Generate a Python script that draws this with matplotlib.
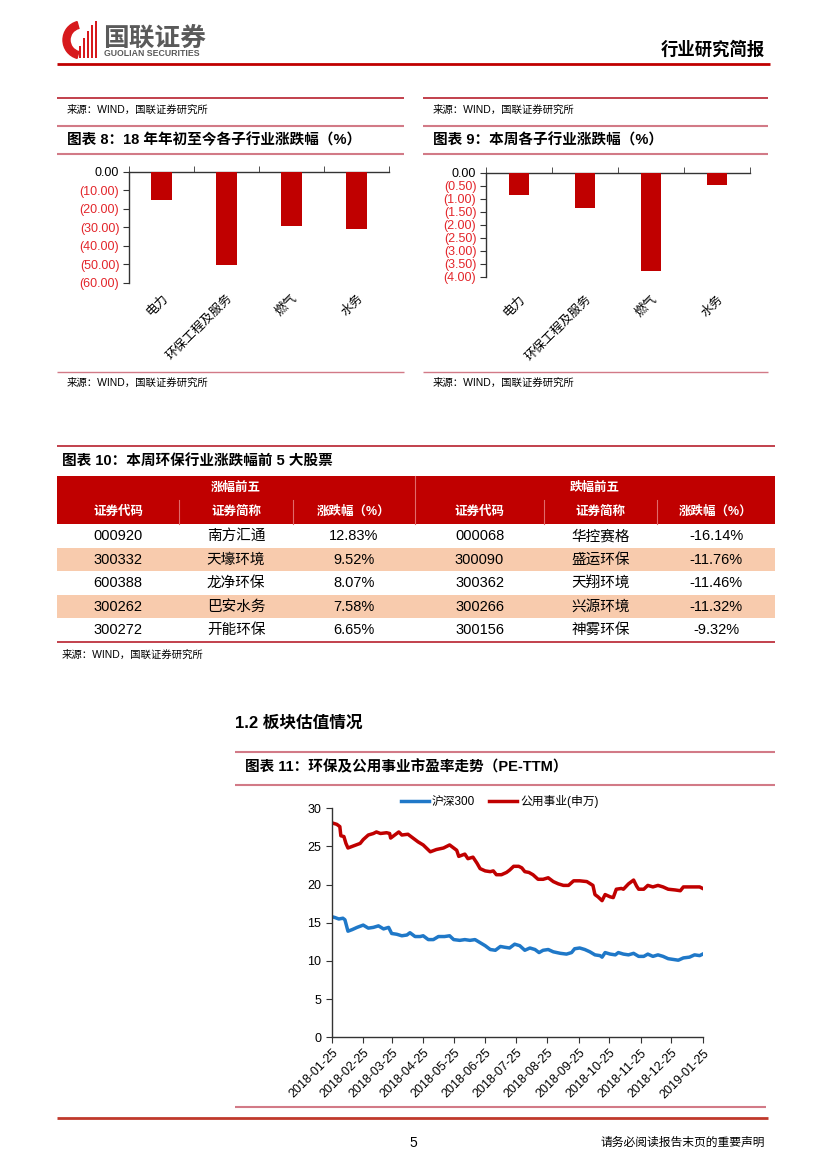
import matplotlib
matplotlib.use('Agg')
import matplotlib.pyplot as plt
import matplotlib.patches as mpatches
import numpy as np
import pandas as pd

plt.rcParams['font.family'] = ['Liberation Sans', 'Noto Sans CJK SC', 'DejaVu Sans']

# ---------------- data ----------------
sub_industries = ['电力', '环保工程及服务', '燃气', '水务']
ytd_change = [-15.3, -50.4, -29.5, -30.8]
week_change = [-0.86, -1.36, -3.79, -0.47]
ytd_ticks = [0, -10, -20, -30, -40, -50, -60]
week_ticks = [0, -0.5, -1.0, -1.5, -2.0, -2.5, -3.0, -3.5, -4.0]

table_cols = ['证券代码', '证券简称', '涨跌幅（%）']
gain_codes = ['000920', '300332', '600388', '300262', '300272']
gain_names = ['南方汇通', '天壕环境', '龙净环保', '巴安水务', '开能环保']
gain_pct = [12.83, 9.52, 8.07, 7.58, 6.65]
loss_codes = ['000068', '300090', '300362', '300266', '300156']
loss_names = ['华控赛格', '盛运环保', '天翔环境', '兴源环境', '神雾环保']
loss_pct = [-16.14, -11.76, -11.46, -11.32, -9.32]

start_date = '2018-01-25'
end_date = '2019-01-25'
util_days = [0, 5, 8, 9, 12, 14, 16, 20, 28, 31, 36, 41, 44, 48, 54, 57, 58, 61, 66, 69,
             75, 80, 85, 90, 97, 103, 110, 113, 116, 120, 123, 125, 129, 131, 134, 139, 143, 146,
             151, 156, 159, 162, 167, 172, 175, 179, 184, 187, 190, 194, 198, 203, 208, 213, 218,
             223, 228, 233, 238, 244, 251, 257, 259, 262, 266, 269, 274, 277, 280, 285, 287, 292,
             297, 300, 302, 307, 311, 316, 321, 326, 331, 338, 343, 346, 352, 357, 362, 365]
util_pe = [28.1, 27.9, 27.6, 26.4, 26.3, 25.4, 24.8, 25.0, 25.4, 25.9, 26.5, 26.7, 26.9, 26.7,
           26.8, 26.7, 26.1, 26.4, 26.9, 26.5, 26.6, 26.1, 25.6, 25.2, 24.3, 24.6, 24.8, 25.0,
           25.2, 24.8, 24.5, 23.7, 23.9, 24.0, 23.4, 23.6, 22.8, 22.1, 21.8, 21.7, 21.8, 21.3,
           21.3, 21.6, 21.9, 22.4, 22.4, 22.2, 21.7, 21.6, 21.3, 20.7, 20.7, 20.9, 20.4, 20.1,
           19.9, 19.9, 20.5, 20.5, 20.4, 19.9, 18.7, 18.4, 17.9, 18.7, 18.4, 18.3, 19.4, 19.5,
           19.4, 20.1, 20.6, 19.8, 19.4, 19.4, 19.9, 19.7, 19.9, 19.7, 19.4, 19.3, 19.2, 19.7,
           19.7, 19.7, 19.7, 19.5]
hs300_days = [0, 3, 7, 11, 13, 16, 20, 25, 31, 36, 41, 46, 51, 56, 59, 64, 69, 74, 77, 82,
              87, 90, 95, 100, 105, 111, 116, 120, 126, 131, 136, 141, 146, 151, 156, 161, 166,
              170, 175, 180, 185, 190, 195, 200, 204, 208, 213, 218, 225, 231, 236, 239, 244,
              249, 254, 259, 264, 266, 269, 274, 279, 282, 287, 292, 297, 302, 307, 311, 316,
              321, 326, 331, 336, 341, 346, 352, 357, 362, 365]
hs300_pe = [15.8, 15.7, 15.5, 15.6, 15.4, 13.9, 14.1, 14.4, 14.7, 14.3, 14.4, 14.6, 14.2, 14.4,
            13.6, 13.5, 13.3, 13.4, 13.7, 13.2, 13.2, 13.3, 12.8, 12.8, 13.2, 13.2, 13.3, 12.8,
            12.7, 12.8, 12.7, 12.8, 12.4, 12.0, 11.5, 11.4, 11.9, 11.8, 11.7, 12.2, 12.0, 11.4,
            11.7, 11.5, 11.1, 11.4, 11.5, 11.2, 11.0, 10.9, 11.1, 11.6, 11.7, 11.5, 11.2, 10.8,
            10.7, 10.5, 11.1, 10.9, 10.8, 11.1, 10.9, 10.8, 11.0, 10.6, 10.6, 10.9, 10.6, 10.8,
            10.6, 10.3, 10.2, 10.1, 10.4, 10.5, 10.8, 10.7, 10.9]
series_names = ['沪深300', '公用事业(申万)']

# ---------------- figure ----------------
W, H = 827, 1169
fig = plt.figure(figsize=(W / 100, H / 100), dpi=100)
fig.patch.set_facecolor('white')

ov = fig.add_axes([0, 0, 1, 1], zorder=0)
ov.set_xlim(0, W)
ov.set_ylim(H, 0)
ov.axis('off')

RED = '#C00000'
PINK = '#D27A87'
DARKRED = '#B8202E'


def rect(l, t, r, b):
    return [l / W, 1 - b / H, (r - l) / W, (b - t) / H]


def hline(y, x0, x1, color=PINK, lw=1.2):
    ov.plot([x0, x1], [y, y], color=color, lw=lw, solid_capstyle='butt')


# header / logo
ov.add_patch(mpatches.Wedge((82, 40), 19, 105, 255, width=7, color='#D7191C'))
for bx, top in zip([79, 83, 87, 91, 95], [46, 38, 31, 25, 21]):
    ov.add_patch(mpatches.Rectangle((bx, top), 2.4, 58 - top, color='#D7191C', lw=0))
ov.text(103, 38, '国联证券', fontsize=18.5, fontweight='bold', color='#5A5A5A',
        va='center', ha='left', family=['Noto Sans CJK SC'])
ov.text(104, 54, 'GUOLIAN SECURITIES', fontsize=6.3, color='#5A5A5A', va='center', ha='left',
        fontweight='bold')
ov.text(765, 50, '行业研究简报', fontsize=12.5, color='black', va='center', ha='right',
        fontweight='bold', family=['Noto Sans CJK SC'])
hline(64, 57, 770, color=RED, lw=2)

# top panels rules and titles
for (x0, x1) in [(57, 404), (423, 768)]:
    hline(98, x0, x1, color=DARKRED, lw=1.2)
    ov.text(x0 + 10, 110, '来源：WIND，国联证券研究所', fontsize=7.5, va='center', ha='left')
    hline(126, x0, x1, color=PINK, lw=1.5)
    hline(154, x0, x1, color=PINK, lw=1.5)
    hline(372, x0, x1, color=PINK, lw=1.0)
    ov.text(x0 + 10, 383, '来源：WIND，国联证券研究所', fontsize=7.5, va='center', ha='left')
ov.text(67, 140, '图表 8：18 年年初至今各子行业涨跌幅（%）', fontsize=10.5, fontweight='bold',
        va='center', ha='left')
ov.text(433, 140, '图表 9：本周各子行业涨跌幅（%）', fontsize=10.5, fontweight='bold',
        va='center', ha='left')


def bar_chart(r, vals, ticks, pad):
    ax = fig.add_axes(r, zorder=2)
    ax.patch.set_alpha(0)
    x = np.arange(len(sub_industries))
    ax.bar(x, vals, width=0.31, color=RED, zorder=3)
    ax.set_xlim(-0.5, len(sub_industries) - 0.5)
    ax.set_ylim(ticks[-1], 0)
    ax.set_yticks(ticks)
    ax.set_yticklabels(['0.00' if t == 0 else f'({abs(t):.2f})' for t in ticks], fontsize=9)
    for lab, t in zip(ax.get_yticklabels(), ticks):
        lab.set_color('black' if t == 0 else '#E3262B')
    for s in ['right', 'bottom']:
        ax.spines[s].set_visible(False)
    for s in ['top', 'left']:
        ax.spines[s].set_color('#333333')
        ax.spines[s].set_linewidth(1)
    ax.set_xticks(x)
    ax.set_xticklabels(sub_industries, rotation=45, ha='right', rotation_mode='anchor',
                       fontsize=9)
    ax.tick_params(axis='x', which='major', length=0, pad=pad)
    ax.set_xticks(np.arange(-0.5, len(sub_industries), 1), minor=True)
    ax.tick_params(axis='x', which='minor', bottom=False, top=True, direction='out',
                   length=4, color='#333333')
    ax.tick_params(axis='y', direction='out', length=4, pad=3, color='#333333')
    return ax


bar_chart(rect(129, 172, 389, 282.7), ytd_change, ytd_ticks, 7)
bar_chart(rect(486, 172.7, 750, 276.7), week_change, week_ticks, 12)

# ---------------- table ----------------
hline(446, 57, 775, color=DARKRED, lw=1.2)
ov.text(62, 462, '图表 10：本周环保行业涨跌幅前 5 大股票', fontsize=10.5, fontweight='bold',
        va='center', ha='left')
col_edges = [57, 179, 293, 415, 544, 657, 775]
col_centers = [(a + b) / 2 for a, b in zip(col_edges[:-1], col_edges[1:])]
head_top, head_mid, head_bot = 476, 500, 524
ov.add_patch(mpatches.Rectangle((57, head_top), 775 - 57, head_bot - head_top, color=RED, lw=0))
ov.plot([415, 415], [head_top, head_bot], color='#E06A6A', lw=0.8)
for xe in [179, 293, 544, 657]:
    ov.plot([xe, xe], [head_mid, head_bot], color='#E06A6A', lw=0.8)
ov.text((57 + 415) / 2, 488, '涨幅前五', fontsize=9, fontweight='bold', color='white',
        ha='center', va='center')
ov.text((415 + 775) / 2, 488, '跌幅前五', fontsize=9, fontweight='bold', color='white',
        ha='center', va='center')
for i, c in enumerate(col_centers):
    ov.text(c, 512, table_cols[i % 3], fontsize=9, fontweight='bold', color='white',
            ha='center', va='center')
row_h = 23.5
for r in range(len(gain_codes)):
    y0 = head_bot + r * row_h
    if r % 2 == 1:
        ov.add_patch(mpatches.Rectangle((57, y0), 775 - 57, row_h, color='#F8CBAD', lw=0))
    cells = [gain_codes[r], gain_names[r], f'{gain_pct[r]:.2f}%',
             loss_codes[r], loss_names[r], f'{loss_pct[r]:.2f}%']
    for c, txt in zip(col_centers, cells):
        ov.text(c, y0 + row_h / 2 + 0.5, txt, fontsize=10.5, ha='center', va='center')
hline(head_bot + 5 * row_h, 57, 775, color=DARKRED, lw=1.2)
ov.text(62, 655, '来源：WIND，国联证券研究所', fontsize=7.5, va='center', ha='left')

# ---------------- section 1.2 ----------------
ov.text(235, 723, '1.2 板块估值情况', fontsize=12, fontweight='bold', va='center', ha='left')
hline(752, 235, 775, color=PINK, lw=1.5)
ov.text(245, 767, '图表 11：环保及公用事业市盈率走势（PE-TTM）', fontsize=10.5,
        fontweight='bold', va='center', ha='left')
hline(785, 235, 775, color=PINK, lw=1.5)

ax = fig.add_axes(rect(331.7, 808.3, 702.7, 1037.3), zorder=2)
ax.patch.set_alpha(0)
t0 = pd.Timestamp(start_date)
hs_dates = [t0 + pd.Timedelta(days=d) for d in hs300_days]
ut_dates = [t0 + pd.Timedelta(days=d) for d in util_days]
l1, = ax.plot(hs_dates, hs300_pe, color='#1F78C8', lw=2.5, solid_joinstyle='round')
l2, = ax.plot(ut_dates, util_pe, color=RED, lw=2.5, solid_joinstyle='round')
ax.set_xlim(t0, pd.Timestamp(end_date))
ax.set_ylim(0, 30)
ax.set_yticks(np.arange(0, 31, 5))
ticks = pd.date_range(start_date, end_date, freq=pd.DateOffset(months=1))
ax.set_xticks(ticks)
ax.set_xticklabels([t.strftime('%Y-%m-%d') for t in ticks], rotation=45, ha='right',
                   rotation_mode='anchor', fontsize=9)
ax.tick_params(axis='y', labelsize=9, direction='out', length=4, color='#333333')
ax.tick_params(axis='x', direction='out', length=4, pad=3, color='#333333')
for s in ['right', 'top']:
    ax.spines[s].set_visible(False)
for s in ['left', 'bottom']:
    ax.spines[s].set_color('#333333')
    ax.spines[s].set_linewidth(1)
ax.legend([l1, l2], series_names, loc='center', ncol=2, frameon=False, fontsize=8.5,
          bbox_to_anchor=(500 / W, 1 - 802 / H), bbox_transform=fig.transFigure,
          handlelength=2.3, handletextpad=0.3, columnspacing=1.2)

# ---------------- footer ----------------
hline(1107, 235, 766, color=PINK, lw=1.5)
hline(1118, 57, 768, color='#C0392B', lw=2)
ov.text(413, 1143, '5', fontsize=10, ha='center', va='center')
ov.text(765, 1143, '请务必阅读报告末页的重要声明', fontsize=8.5, ha='right', va='center')

fig.savefig('out.png', dpi=100, facecolor='white')
